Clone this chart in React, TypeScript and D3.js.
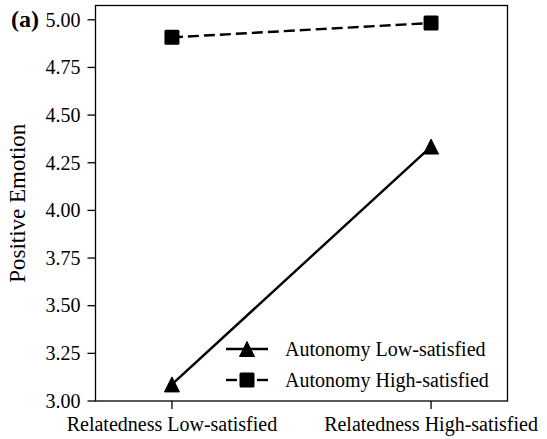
import React from "react"
import * as d3 from "d3"

// data
const categories = ["Relatedness Low-satisfied", "Relatedness High-satisfied"]
const seriesNames = ["Autonomy Low-satisfied", "Autonomy High-satisfied"]
const lowAutonomy = [3.087, 4.335]
const highAutonomy = [4.908, 4.983]
const yTicks = [3.0, 3.25, 3.5, 3.75, 4.0, 4.25, 4.5, 4.75, 5.0]

const W = 547
const H = 439
const left = 95.5
const right = 507.5
const top = 5.5
const bottom = 401
const font = "'Liberation Serif', 'Times New Roman', serif"

const x = d3.scaleLinear().domain([-0.295, 1.295]).range([left, right])
const y = d3.scaleLinear().domain([3.0, 5.075]).range([bottom, top])

const line = d3.line<number>()
    .x((d, i) => x(i))
    .y(d => y(d))

const Square = ({ cx, cy }: { cx: number, cy: number }) => (
    <rect x={cx - 7.5} y={cy - 7.5} width={15} height={15} rx={1.5} fill="black" />
)

// matplotlib-like '^' marker: bbox centred on the point
const Triangle = ({ cx, cy }: { cx: number, cy: number }) => (
    <path d={`M${cx},${cy - 7.5}L${cx + 7.5},${cy + 7.5}L${cx - 7.5},${cy + 7.5}Z`} fill="black" strokeLinejoin="round" stroke="black" strokeWidth={1} />
)

export default function App() {
    return (
        <svg width={W} height={H} style={{ position: "absolute", left: 0, top: 0, background: "white" }}
            fontFamily={font}>
            {/* frame */}
            <rect x={left} y={top} width={right - left} height={bottom - top} fill="none" stroke="black" strokeWidth={1.3} />

            {/* y axis */}
            {yTicks.map(t => (
                <g key={t}>
                    <line x1={left - 8} x2={left} y1={y(t)} y2={y(t)} stroke="black" strokeWidth={1.3} />
                    <text x={left - 15} y={y(t)} dy="0.34em" textAnchor="end" fontSize={20}>{d3.format(".2f")(t)}</text>
                </g>
            ))}

            {/* x axis */}
            {categories.map((c, i) => (
                <g key={c}>
                    <line x1={x(i)} x2={x(i)} y1={bottom} y2={bottom + 8} stroke="black" strokeWidth={1.3} />
                    <text x={x(i)} y={bottom + 30} textAnchor="middle" fontSize={20}>{c}</text>
                </g>
            ))}

            <text transform={`translate(25,${(top + bottom) / 2}) rotate(-90)`} textAnchor="middle" fontSize={23}>Positive Emotion</text>
            <text x={11} y={27} fontSize={24} fontWeight="bold">(a)</text>

            {/* series */}
            <path d={line(lowAutonomy) as string} fill="none" stroke="black" strokeWidth={2.4} />
            {lowAutonomy.map((v, i) => <Triangle key={i} cx={x(i)} cy={y(v)} />)}

            <path d={line(highAutonomy) as string} fill="none" stroke="black" strokeWidth={2.4} strokeDasharray="11,5" />
            {highAutonomy.map((v, i) => <Square key={i} cx={x(i)} cy={y(v)} />)}

            {/* legend */}
            <g>
                <line x1={226} x2={268} y1={349} y2={349} stroke="black" strokeWidth={2.4} />
                <Triangle cx={247} cy={349} />
                <text x={285} y={349} dy="0.34em" fontSize={20}>{seriesNames[0]}</text>
                <line x1={226} x2={237} y1={380} y2={380} stroke="black" strokeWidth={2.4} />
                <line x1={257} x2={268} y1={380} y2={380} stroke="black" strokeWidth={2.4} />
                <Square cx={247} cy={380} />
                <text x={285} y={380} dy="0.34em" fontSize={20}>{seriesNames[1]}</text>
            </g>
        </svg>
    )
}
